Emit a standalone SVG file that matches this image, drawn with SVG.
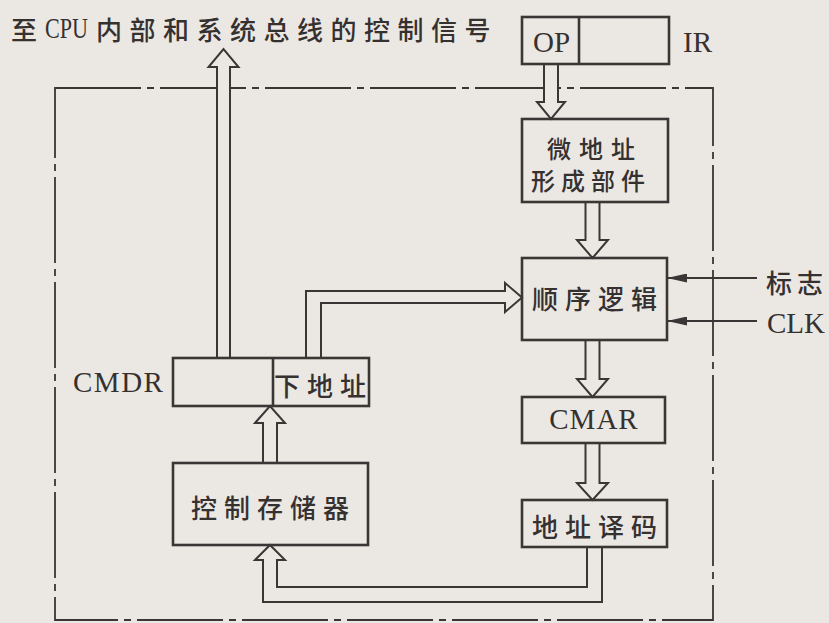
<svg xmlns="http://www.w3.org/2000/svg" width="829" height="623" viewBox="0 0 829 623">
<defs>
<style>
.bg{fill:#ebe8e3}
.box{fill:none;stroke:#3b3636;stroke-width:2.6}
.arr{fill:#ebe8e3;stroke:#3b3636;stroke-width:2}
.ln{fill:none;stroke:#3b3636;stroke-width:2}
.frame{fill:none;stroke:#3b3636;stroke-width:1.8;stroke-dasharray:86 6 7 6}
.cjk{font-family:"Noto Sans CJK SC","Noto Sans",sans-serif;font-size:26px;font-weight:500;fill:#363131;dominant-baseline:central}
.lat{font-family:"Liberation Serif",serif;font-size:29px;fill:#363131}
</style>
<marker id="ah" markerUnits="userSpaceOnUse" markerWidth="20" markerHeight="9" refX="20" refY="4.5" orient="auto">
<path d="M0,0 L20,4.5 L0,9 Z" fill="#3b3636"/>
</marker>
</defs>
<rect class="bg" x="0" y="0" width="829" height="623"/>
<rect class="frame" x="55" y="88" width="658" height="532"/>

<g id="title">
<text class="cjk" x="11" y="28.5">至</text>
<text class="lat" x="45" y="38" font-size="27" textLength="43" lengthAdjust="spacingAndGlyphs">CPU</text>
<text class="cjk" x="96" y="28.5" style="letter-spacing:7.5px">内部和系统总线的控制信号</text>
</g>

<g id="connectors">
<path class="arr" d="M217,358 V67 H208.5 L223.5,49 L238.5,67 H230 V358"/>
<path class="arr" d="M544,64 V102 H537 L551,119 L565,102 H558 V64"/>
<path class="arr" d="M585.5,202 V240 H577 L592.5,258 L608,240 H599.5 V202"/>
<path class="arr" d="M585.5,340 V379 H577 L592.5,397 L608,379 H599.5 V340"/>
<path class="arr" d="M585.5,443 V483 H577 L592.5,500 L608,483 H599.5 V443"/>
<path class="arr" d="M263,463 V423 H255 L270,406 L285,423 H277 V463"/>
<path class="arr" d="M587,547 V587 H277 V560 H285 L270,545 L255,560 H263 V602 H602 V547"/>
<path class="arr" d="M306,358 V291 H505 V283 L522,297.5 L505,312 V303 H321 V358"/>
<line class="ln" x1="757" y1="278" x2="667" y2="278" marker-end="url(#ah)"/>
<line class="ln" x1="757" y1="321" x2="667" y2="321" marker-end="url(#ah)"/>
</g>

<g id="ir">
<rect class="box" x="522" y="17" width="147" height="47"/>
<line class="box" x1="579" y1="17" x2="579" y2="64"/>
<text class="lat" x="533" y="52" font-size="30">OP</text>
<text class="lat" x="683" y="52" font-size="29">IR</text>
</g>

<g id="micro-addr">
<rect class="box" x="522" y="119" width="146" height="83"/>
<text class="cjk" x="547" y="147" style="font-size:24px;letter-spacing:8px">微地址</text>
<text class="cjk" x="531" y="179" style="font-size:24px;letter-spacing:6px">形成部件</text>
</g>

<g id="seq-logic">
<rect class="box" x="522" y="258" width="145" height="82"/>
<text class="cjk" x="532" y="297" style="letter-spacing:7px">顺序逻辑</text>
</g>

<g id="flag">
<text class="cjk" x="766" y="281" style="letter-spacing:5px">标志</text>
</g>
<g id="clk">
<text class="lat" x="767" y="333" font-size="29">CLK</text>
</g>

<g id="cmar">
<rect class="box" x="522" y="397" width="143" height="46"/>
<text class="lat" x="594" y="429" font-size="29" text-anchor="middle" style="letter-spacing:1px">CMAR</text>
</g>

<g id="decoder">
<rect class="box" x="522" y="500" width="145" height="47"/>
<text class="cjk" x="532" y="525" style="letter-spacing:7px">地址译码</text>
</g>

<g id="cmdr">
<rect class="box" x="173" y="358" width="196" height="48"/>
<line class="box" x1="273" y1="358" x2="273" y2="406"/>
<text class="cjk" x="274" y="384" style="letter-spacing:7px">下地址</text>
<text class="lat" x="73" y="392" font-size="29" style="letter-spacing:1.5px">CMDR</text>
</g>

<g id="cstore">
<rect class="box" x="173" y="463" width="195" height="82"/>
<text class="cjk" x="191" y="506" style="letter-spacing:7px">控制存储器</text>
</g>
</svg>
